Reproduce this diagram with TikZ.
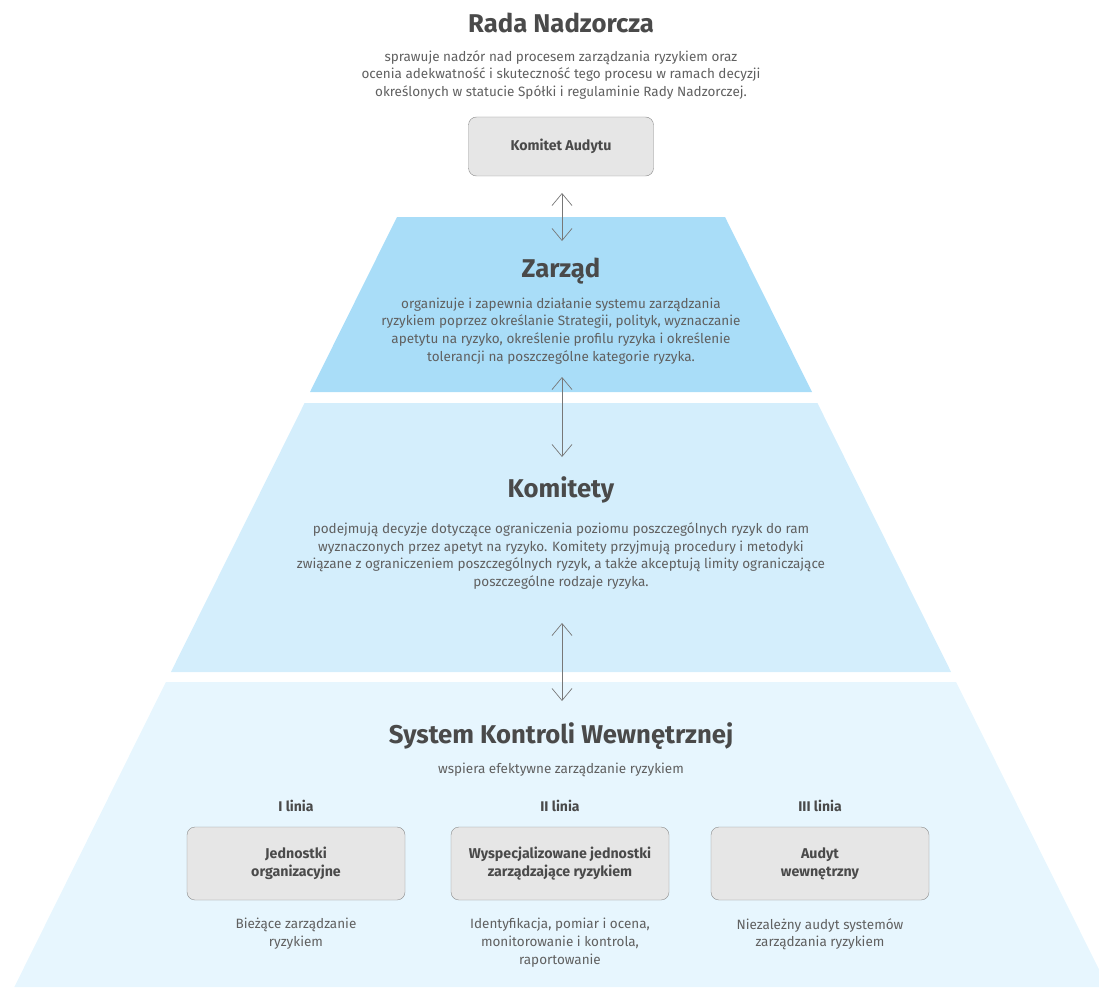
\documentclass[tikz,border=0pt]{standalone}
\usepackage{fontspec}
\setmainfont{Fira Sans}
\usetikzlibrary{arrows.meta, positioning}

\definecolor{cTytul}{HTML}{4A4A4A}
\definecolor{cOpis}{HTML}{606060}
\definecolor{cZarzad}{HTML}{A9DDF8}
\definecolor{cKomitety}{HTML}{D4EEFC}
\definecolor{cSystem}{HTML}{E7F6FE}
\definecolor{cRamka}{HTML}{8A8A8A}
\definecolor{cPole}{HTML}{E6E6E6}
\definecolor{cStrzalka}{HTML}{777777}

\tikzset{
  naglowek/.style={font=\bfseries\fontsize{25.7}{30}\selectfont, text=cTytul, inner sep=0pt},
  opis/.style={font=\fontsize{13.5}{17.7}\selectfont, text=cOpis, align=center, inner sep=0pt},
  linia/.style={font=\bfseries\fontsize{14}{17.7}\selectfont, text=cTytul, inner sep=0pt},
  ramka/.style={draw=cRamka, fill=cPole, rounded corners=8pt, minimum width=218pt, minimum height=73pt,
    align=center, font=\bfseries\fontsize{14.2}{18}\selectfont, text=cTytul},
  strzalka/.style={draw=cStrzalka, line width=0.7pt,
    {Straight Barb[length=12pt,width=20pt]}-{Straight Barb[length=12pt,width=20pt]}}
}

\begin{document}
\begin{tikzpicture}[x=1pt, y=-1pt]
\useasboundingbox (0,0) rectangle (1099,987);

\fill[cZarzad] (397,217) -- (725,217) -- (812,392) -- (310,392) -- cycle;
\fill[cKomitety] (304.6,403) -- (817.4,403) -- (951.1,672) -- (170.9,672) -- cycle;
\fill[cSystem] (165.9,682) -- (956.1,682) -- (1099,969.5) -- (1099,987) -- (14.3,987) -- cycle;

\node[naglowek, anchor=base] (RN) at (561,33) {Rada Nadzorcza};
\node[opis] (RNo) at (561,75) {sprawuje nadzór nad procesem zarządzania ryzykiem oraz\\
ocenia adekwatność i skuteczność tego procesu w ramach decyzji\\
określonych w statucie Spółki i regulaminie Rady Nadzorczej.};
\node[ramka, minimum width=185pt, minimum height=59pt] (KA) at (561,146.5) {Komitet Audytu};

\node[naglowek, anchor=base] (Z) at (561,277) {Zarząd};
\node[opis] (Zo) at (561,331) {organizuje i zapewnia działanie systemu zarządzania\\
ryzykiem poprzez określanie Strategii, polityk, wyznaczanie\\
apetytu na ryzyko, określenie profilu ryzyka i określenie\\
tolerancji na poszczególne kategorie ryzyka.};

\node[naglowek, anchor=base] (K) at (561,497) {Komitety};
\node[opis] (Ko) at (561,556) {podejmują decyzje dotyczące ograniczenia poziomu poszczególnych ryzyk do ram\\
wyznaczonych przez apetyt na ryzyko. Komitety przyjmują procedury i metodyki\\
związane z ograniczeniem poszczególnych ryzyk, a także akceptują limity ograniczające\\
poszczególne rodzaje ryzyka.};

\node[naglowek, anchor=base] (S) at (561,743) {System Kontroli Wewnętrznej};
\node[opis, anchor=base] (So) at (561,773.5) {wspiera efektywne zarządzanie ryzykiem};

\node[ramka] (J1) at (296,863.5) {Jednostki\\organizacyjne};
\node[ramka] (J2) at (560,863.5) {Wyspecjalizowane jednostki\\zarządzające ryzykiem};
\node[ramka] (J3) at (820,863.5) {Audyt\\wewnętrzny};
\node[linia, above=15pt of J1] (L1) {I linia};
\node[linia, above=15pt of J2] (L2) {II linia};
\node[linia, above=15pt of J3] (L3) {III linia};
\node[opis, below=18pt of J1] (O1) {Bieżące zarządzanie\\ryzykiem};
\node[opis, below=18pt of J2] (O2) {Identyfikacja, pomiar i ocena,\\monitorowanie i kontrola,\\raportowanie};
\node[opis, below=18pt of J3] (O3) {Niezależny audyt systemów\\zarządzania ryzykiem};

\coordinate (a1) at (562,193);
\coordinate (b1) at (562,241);
\coordinate (a2) at (562,377);
\coordinate (b2) at (562,457);
\coordinate (a3) at (562,623);
\coordinate (b3) at (562,701);
\draw[strzalka] (a1) -- (b1);
\draw[strzalka] (a2) -- (b2);
\draw[strzalka] (a3) -- (b3);
\end{tikzpicture}
\end{document}
